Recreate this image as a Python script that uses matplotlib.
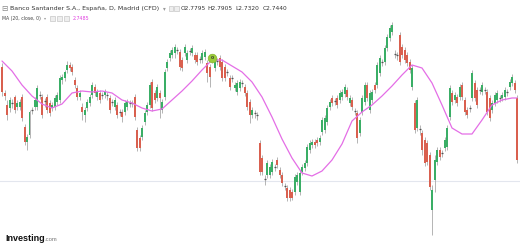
import matplotlib
matplotlib.use("Agg")
import matplotlib.pyplot as plt
from matplotlib.patches import Rectangle
import numpy as np

# ---------------- data (daily OHLC) ----------------
opens = [3.03,2.77,2.65,2.62,2.67,2.73,2.63,2.63,2.73,2.43,2.28,2.35,2.60,2.63,2.63,2.75,2.73,2.69,2.73,2.67,
         2.62,2.63,2.68,2.70,2.90,2.92,3.00,3.05,3.03,2.90,2.82,2.73,2.63,2.55,2.62,2.67,2.75,2.83,2.73,2.77,
         2.75,2.75,2.75,2.72,2.68,2.63,2.65,2.58,2.58,2.58,2.63,2.67,2.67,2.73,2.40,2.32,2.33,2.48,2.58,2.65,
         2.88,2.77,2.72,2.77,2.60,2.73,3.02,3.12,3.15,3.17,3.20,3.18,3.10,3.17,3.10,3.19,3.17,3.15,3.15,3.11,
         3.10,3.13,3.07,3.03,3.10,3.02,3.09,3.12,3.08,3.03,2.98,2.92,2.92,2.82,2.78,2.82,2.87,2.83,2.77,2.68,
         2.55,2.57,2.55,2.27,2.12,1.91,1.95,1.95,1.98,2.03,2.10,2.00,1.95,1.84,1.82,1.80,1.78,1.78,1.88,1.78,
         1.98,2.02,2.07,2.20,2.25,2.28,2.30,2.28,2.38,2.40,2.48,2.63,2.72,2.69,2.72,2.70,2.73,2.76,2.80,2.67,
         2.70,2.59,2.57,2.37,2.58,2.68,2.85,2.60,2.70,2.85,2.85,2.97,3.08,3.08,3.22,3.32,3.38,3.16,3.15,3.35,
         3.23,3.20,3.15,3.08,2.83,2.67,2.42,2.41,2.37,2.30,2.27,2.15,1.60,1.90,2.08,2.20,2.17,2.22,2.23,2.53,
         2.77,2.70,2.73,2.73,2.85,2.70,2.60,2.62,2.72,2.87,2.80,2.80,2.78,2.80,2.78,2.72,2.60,2.67,2.70,2.72,
         2.72,2.73,2.78,2.83,2.87,2.87,2.72]
highs = [3.07,2.80,2.70,2.73,2.71,2.75,2.70,2.71,2.76,2.46,2.36,2.60,2.63,2.73,2.85,2.79,2.76,2.72,2.76,2.70,
         2.68,2.75,2.78,2.95,2.96,3.00,3.09,3.08,3.06,2.93,2.85,2.80,2.67,2.63,2.71,2.76,2.88,2.86,2.81,2.80,
         2.78,2.81,2.78,2.75,2.71,2.73,2.68,2.61,2.61,2.70,2.71,2.70,2.70,2.76,2.43,2.35,2.45,2.60,2.68,2.88,
         2.91,2.80,2.86,2.80,2.71,3.01,3.11,3.20,3.23,3.26,3.23,3.21,3.13,3.26,3.20,3.22,3.25,3.18,3.18,3.14,
         3.20,3.21,3.10,3.06,3.16,3.11,3.12,3.15,3.11,3.06,3.01,2.95,2.95,2.88,2.90,2.91,2.90,2.86,2.80,2.71,
         2.63,2.60,2.58,2.30,2.15,1.95,2.10,2.06,2.11,2.06,2.13,2.03,1.98,1.87,1.85,1.83,1.81,1.96,1.98,2.00,
         2.06,2.10,2.26,2.30,2.31,2.31,2.33,2.35,2.53,2.55,2.65,2.71,2.75,2.72,2.75,2.80,2.81,2.86,2.83,2.75,
         2.73,2.62,2.60,2.53,2.75,2.88,2.88,2.80,2.81,2.88,3.08,3.15,3.11,3.25,3.36,3.45,3.48,3.20,3.18,3.38,
         3.26,3.23,3.18,3.11,3.05,2.70,2.73,2.45,2.40,2.33,2.30,2.18,1.85,2.15,2.23,2.23,2.20,2.33,2.45,2.85,
         2.80,2.78,2.76,2.86,2.88,2.73,2.63,2.65,3.00,2.90,2.83,2.83,2.88,2.83,2.81,2.75,2.70,2.78,2.80,2.75,
         2.78,2.83,2.81,2.91,2.96,2.90,2.75]
lows = [2.74,2.70,2.50,2.58,2.62,2.57,2.60,2.60,2.49,2.25,2.20,2.32,2.56,2.60,2.60,2.71,2.52,2.63,2.57,2.54,
        2.59,2.60,2.65,2.67,2.86,2.89,2.97,2.99,2.95,2.82,2.70,2.70,2.50,2.48,2.59,2.64,2.72,2.74,2.70,2.67,
        2.71,2.72,2.70,2.57,2.64,2.60,2.52,2.54,2.48,2.55,2.60,2.63,2.63,2.50,2.19,2.19,2.30,2.45,2.55,2.62,
        2.59,2.67,2.69,2.52,2.57,2.70,2.99,3.09,3.12,3.12,3.16,3.00,2.99,3.14,3.07,3.15,3.14,3.07,3.05,3.07,
        3.07,3.10,2.88,2.83,3.07,2.99,3.05,3.00,2.89,2.89,2.94,2.80,2.88,2.79,2.75,2.79,2.83,2.74,2.60,2.47,
        2.52,2.52,2.50,1.95,1.95,1.85,1.92,1.92,1.95,1.99,2.02,1.92,1.84,1.80,1.69,1.69,1.70,1.75,1.85,1.75,
        1.95,1.99,2.04,2.17,2.22,2.22,2.24,2.25,2.35,2.37,2.45,2.60,2.64,2.65,2.62,2.67,2.70,2.73,2.70,2.64,
        2.60,2.55,2.27,2.34,2.55,2.65,2.69,2.57,2.67,2.77,2.82,2.94,3.04,3.05,3.19,3.29,3.35,3.12,3.10,3.05,
        3.12,3.07,3.04,2.97,2.80,2.37,2.39,2.35,2.15,2.04,2.05,1.80,1.35,1.78,2.05,2.10,2.13,2.19,2.20,2.50,
        2.65,2.67,2.64,2.70,2.70,2.55,2.52,2.58,2.69,2.69,2.62,2.76,2.75,2.76,2.55,2.49,2.57,2.64,2.67,2.68,
        2.69,2.70,2.74,2.80,2.84,2.77,2.07]
closes = [2.78,2.74,2.55,2.70,2.67,2.60,2.67,2.68,2.52,2.28,2.33,2.58,2.60,2.70,2.82,2.75,2.55,2.69,2.60,2.57,
          2.65,2.72,2.75,2.92,2.93,2.98,3.05,3.02,2.98,2.85,2.73,2.77,2.58,2.60,2.68,2.73,2.85,2.77,2.78,2.70,
          2.75,2.78,2.75,2.60,2.68,2.70,2.55,2.58,2.53,2.67,2.68,2.67,2.67,2.53,2.22,2.22,2.42,2.57,2.65,2.85,
          2.62,2.70,2.83,2.72,2.68,2.98,3.08,3.17,3.20,3.23,3.20,3.03,3.02,3.23,3.17,3.19,3.22,3.10,3.08,3.11,
          3.17,3.18,2.97,2.93,3.13,3.08,3.09,3.03,2.92,2.92,2.98,2.83,2.92,2.85,2.87,2.88,2.87,2.77,2.63,2.55,
          2.60,2.57,2.55,1.98,1.98,1.91,2.07,2.03,2.08,2.03,2.05,1.95,1.87,1.84,1.72,1.72,1.72,1.93,1.95,1.97,
          2.03,2.07,2.23,2.27,2.28,2.25,2.27,2.32,2.50,2.52,2.62,2.68,2.67,2.69,2.65,2.77,2.78,2.83,2.73,2.72,
          2.63,2.59,2.32,2.50,2.72,2.85,2.72,2.77,2.78,2.80,3.05,3.12,3.08,3.22,3.33,3.42,3.45,3.16,3.15,3.08,
          3.15,3.10,3.07,3.00,3.02,2.40,2.70,2.41,2.20,2.07,2.08,1.83,1.80,2.10,2.20,2.13,2.17,2.30,2.42,2.82,
          2.68,2.75,2.67,2.83,2.73,2.58,2.55,2.62,2.97,2.72,2.65,2.80,2.85,2.80,2.58,2.52,2.67,2.75,2.77,2.72,
          2.75,2.80,2.78,2.88,2.93,2.80,2.10]

# MA(20, close) as drawn, read every 4 sessions (plus the last session)
ma_index = list(range(0, 205, 4)) + [206]
ma_values = [3.09,2.99,2.85,2.74,2.66,2.62,2.66,2.77,2.79,2.78,2.79,2.77,2.70,2.67,2.62,2.59,2.61,2.70,2.79,2.89,
             3.00,3.10,3.10,3.04,2.98,2.88,2.73,2.53,2.31,2.12,1.97,1.94,1.99,2.10,2.26,2.49,2.58,2.65,2.74,2.84,
             2.95,3.05,3.02,2.87,2.65,2.42,2.36,2.36,2.50,2.65,2.70,2.72,2.72]

ref_level = 1.89          # light horizontal reference line
event_index = 84          # green event bubble
event_price = 3.12

title = "Banco Santander S.A., España, D, Madrid (CFD)"
ohlc_labels = ["O2.7795", "H2.7905", "L2.7320", "C2.7440"]
ma_label = "MA (20, close, 0)"
ma_last = "2.7485"

# ---------------- style ----------------
UP = "#3aae66"
DOWN = "#d9604f"
WICK = "#a8a8a8"
DOJI = "#555555"
MA_COL = "#e46ee6"

W, H = 520, 247
fig = plt.figure(figsize=(W / 100, H / 100), dpi=100)
ax = fig.add_axes([0, 0, 1, 1])
ax.set_facecolor("white")
for s in ax.spines.values():
    s.set_visible(False)
ax.set_xticks([])
ax.set_yticks([])

n = len(closes)
idx = np.arange(n)
ax.set_xlim(-0.8, 207.2)
ax.set_ylim(1.23, 3.70)

ax.axhline(ref_level, color="#e3e6ee", lw=0.8, zorder=0)

o = np.array(opens); c = np.array(closes); h = np.array(highs); l = np.array(lows)
ax.vlines(idx, l, h, color=WICK, lw=0.6, zorder=1)
up = c > o
dn = c < o
dj = c == o
bw = 0.8
ax.bar(idx[up], (c - o)[up], bottom=o[up], width=bw, color=UP, lw=0, zorder=2)
ax.bar(idx[dn], (o - c)[dn], bottom=c[dn], width=bw, color=DOWN, lw=0, zorder=2)
ax.hlines(o[dj], idx[dj] - bw / 2, idx[dj] + bw / 2, color=DOJI, lw=0.9, zorder=2)

ax.plot(ma_index, ma_values, color=MA_COL, lw=0.9, zorder=3, solid_capstyle="round")

# event bubble
ax.scatter([event_index], [event_price], s=38, color="#9ccc3a", edgecolor="#86b52c",
           lw=0.5, zorder=5)
ax.text(event_index, event_price, "0", fontsize=3.2, color="#333333", ha="center",
        va="center", zorder=6, fontweight="bold")

# ---------------- header ----------------
def px(x, y):
    return x / W, 1 - y / H

hfont = ["DejaVu Sans"]
fig.text(*px(1.5, 8.5), "⊟", fontsize=5.5, color="#888888", va="center", ha="left",
         family=hfont)
fig.text(*px(10, 8.5), title, fontsize=4.5, color="#333333", va="center", ha="left",
         family=hfont)
fig.text(*px(163, 8.5), "▾", fontsize=4, color="#999999", va="center", ha="left",
         family=hfont)
for xb in (168.5, 174):
    fig.patches.append(Rectangle(px(xb, 11), 4.5 / W, 5 / H, transform=fig.transFigure,
                                 facecolor="#eeeeee", edgecolor="#bbbbbb", lw=0.4))
for lab, xx in zip(ohlc_labels, (180.5, 207.5, 235, 263)):
    fig.text(*px(xx, 8.5), lab, fontsize=4.2, color="#333333", va="center", ha="left",
             family=hfont)

fig.text(*px(2, 18.5), ma_label, fontsize=3.3, color="#444444", va="center", ha="left",
         family=hfont)
fig.text(*px(43.5, 18.5), "▾", fontsize=3, color="#999999", va="center", ha="left",
         family=hfont)
for xb in (50, 57, 64):
    fig.patches.append(Rectangle(px(xb, 21), 5 / W, 5 / H, transform=fig.transFigure,
                                 facecolor="#eeeeee", edgecolor="#bbbbbb", lw=0.4))
fig.text(*px(73, 18.5), ma_last, fontsize=3.4, color="#e040e0", va="center", ha="left",
         family=hfont)

# ---------------- logo ----------------
fig.text(*px(5, 238), "Investing", fontsize=6.5, color="#111111", va="center", ha="left",
         fontweight="bold", family=["Liberation Sans Narrow", "Liberation Sans"])
fig.text(*px(44, 239), ".com", fontsize=4.2, color="#777777", va="center", ha="left",
         family=["Liberation Sans"])

fig.savefig("out.png", dpi=100, facecolor="white")
